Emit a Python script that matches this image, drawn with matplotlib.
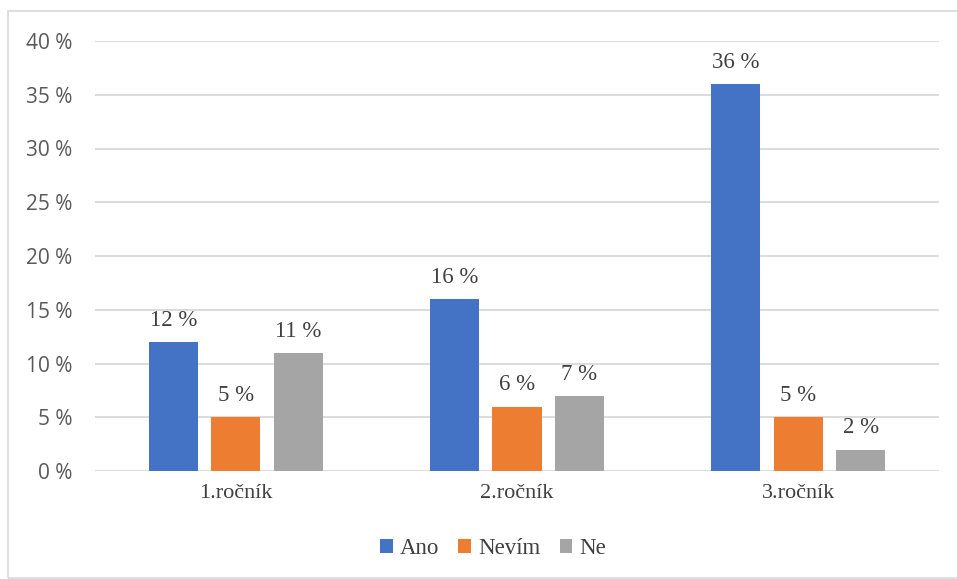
import numpy as np
import matplotlib.pyplot as plt
from matplotlib.patches import Rectangle

categories = ['1.ročník', '2.ročník', '3.ročník']
ano = [12, 16, 36]
nevim = [5, 6, 5]
ne = [11, 7, 2]
series_names = ['Ano', 'Nevím', 'Ne']
colors = ['#4472C4', '#ED7D31', '#A5A5A5']
yticks = [0, 5, 10, 15, 20, 25, 30, 35, 40]

serif = ['Liberation Serif', 'DejaVu Serif']
sans = ['Open Sans', 'DejaVu Sans']

fig = plt.figure(figsize=(9.57, 5.79), dpi=100)
ax = fig.add_axes([95/957, 108/579, 844/957, 430/579])

x = np.arange(len(categories))
w = 0.175
step = 0.222
for i, (vals, name, c) in enumerate(zip([ano, nevim, ne], series_names, colors)):
    pos = x + (i - 1) * step
    bars = ax.bar(pos, vals, w, color=c, label=name, zorder=3)
    for b, v in zip(bars, vals):
        ax.annotate(f'{v} %', (b.get_x() + b.get_width() / 2, v),
                    xytext=(0, 8), textcoords='offset points',
                    ha='center', va='bottom', fontsize=16.5,
                    family=serif, color='#404040')

ax.set_xlim(-0.5, 2.5)
ax.set_ylim(0, 40)
ax.set_yticks(yticks)
ax.set_yticklabels([f'{t} %' for t in yticks], family=sans, fontsize=15,
                   color='#595959')
ax.set_xticks(x)
ax.set_xticklabels(categories, family=serif, fontsize=16, color='#404040')
ax.tick_params(axis='both', length=0)
ax.tick_params(axis='y', pad=16.5)
ax.tick_params(axis='x', pad=9)
ax.grid(axis='y', color='#D9D9D9', linewidth=1.3, zorder=0)
for s in ax.spines.values():
    s.set_visible(False)

leg = fig.legend(loc='center', bbox_to_anchor=(493/957, 1 - 549/579), ncol=3,
                 frameon=False, prop={'family': serif, 'size': 16.5},
                 handlelength=0.55, handleheight=0.55, handletextpad=0.3,
                 columnspacing=0.85)
for t in leg.get_texts():
    t.set_color('#404040')

fig.patches.append(Rectangle((8/957, 0.002), 0.995, 1 - 11/579 - 0.002,
                             transform=fig.transFigure, fill=False,
                             edgecolor='#D9D9D9', linewidth=1.2))

fig.savefig('out.png', dpi=100)
